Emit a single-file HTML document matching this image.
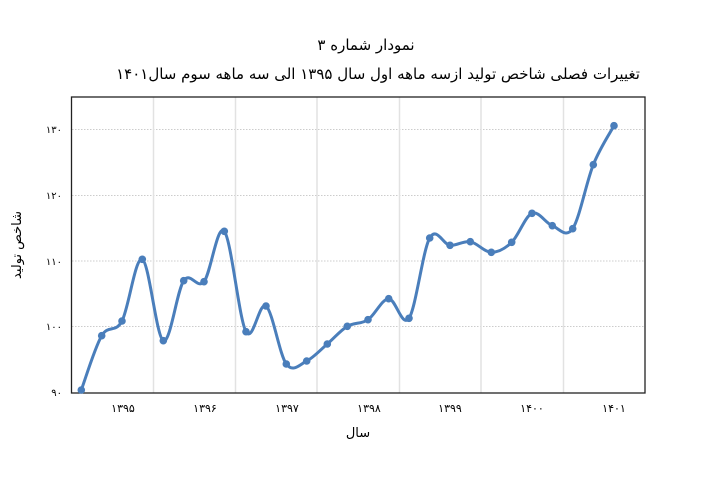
<!DOCTYPE html>
<html><head><meta charset="utf-8"><style>
body{margin:0;background:#fff;}
svg text{font-family:"DejaVu Sans",sans-serif;fill:#000;}
</style></head><body>
<svg id="s" width="704" height="474" xmlns="http://www.w3.org/2000/svg">
<rect width="704" height="474" fill="#fff"/>
<text x="366" y="50" font-size="15" text-anchor="middle" direction="rtl">نمودار شماره ۳</text>
<text x="378" y="79" font-size="15" text-anchor="middle" direction="rtl">تغییرات فصلی شاخص تولید ازسه ماهه اول سال ۱۳۹۵ الی سه ماهه سوم سال۱۴۰۱</text>
<g stroke="#ccc" stroke-width="1" stroke-dasharray="1.5,1.5">
<line x1="72" x2="645" y1="129.5" y2="129.5"/><line x1="72" x2="645" y1="195.5" y2="195.5"/>
<line x1="72" x2="645" y1="261" y2="261"/><line x1="72" x2="645" y1="326.5" y2="326.5"/>
</g>
<g stroke="#e2e2e2" stroke-width="1.5">
<line x1="153.5" x2="153.5" y1="97" y2="393"/><line x1="235.5" x2="235.5" y1="97" y2="393"/>
<line x1="317" x2="317" y1="97" y2="393"/><line x1="399.5" x2="399.5" y1="97" y2="393"/>
<line x1="481" x2="481" y1="97" y2="393"/><line x1="563.5" x2="563.5" y1="97" y2="393"/>
</g>
<rect x="71.5" y="97" width="573.5" height="296" fill="none" stroke="#222" stroke-width="1.3"/>
<g font-size="10" text-anchor="end">
<text x="62" y="133">۱۳۰</text><text x="62" y="199">۱۲۰</text><text x="62" y="265">۱۱۰</text><text x="62" y="330">۱۰۰</text><text x="62" y="396">۹۰</text>
</g>
<g font-size="11" text-anchor="middle">
<text x="123" y="412">۱۳۹۵</text><text x="205" y="412">۱۳۹۶</text><text x="287" y="412">۱۳۹۷</text><text x="369" y="412">۱۳۹۸</text><text x="450" y="412">۱۳۹۹</text><text x="532" y="412">۱۴۰۰</text><text x="614" y="412">۱۴۰۱</text>
</g>
<text x="358" y="437" font-size="13" text-anchor="middle">سال</text>
<text transform="translate(21,245) rotate(-90)" font-size="13" text-anchor="middle">شاخص تولید</text>
<path id="ln" fill="none" stroke="#4a7ebb" stroke-width="3" stroke-linejoin="round"/>
<g id="mk" fill="#4a7ebb"></g>
</svg>
<script>
var p=[[81.3,390],[101.7,335.7],[122,321],[142.3,259.3],[163.3,340.7],[183.7,280.7],[204,281.7],[224.3,231.3],[246,331.7],[266,306],[286.3,364],[306.7,361],[327.3,344],[347.3,326.3],[368,319.7],[388.7,298.7],[409,318.3],[429.7,238],[450,245.3],[470.3,241.7],[491.3,252.3],[511.7,242.3],[532,213.3],[552.3,225.7],[572.7,228.7],[593.3,164.7],[614,125.7]];
var d="M"+p[0][0]+","+p[0][1],t=0.5/3*1.0;
for(var i=0;i<p.length-1;i++){var a=p[Math.max(i-1,0)],b=p[i],c=p[i+1],e=p[Math.min(i+2,p.length-1)];
var k=1/6;
d+=" C"+(b[0]+(c[0]-a[0])*k)+","+(b[1]+(c[1]-a[1])*k)+" "+(c[0]-(e[0]-b[0])*k)+","+(c[1]-(e[1]-b[1])*k)+" "+c[0]+","+c[1];}
document.getElementById("ln").setAttribute("d",d);
var g=document.getElementById("mk"),h="";
p.forEach(function(q){h+='<circle cx="'+q[0]+'" cy="'+q[1]+'" r="3.8"/>';});
g.innerHTML=h;
</script>
</body></html>
